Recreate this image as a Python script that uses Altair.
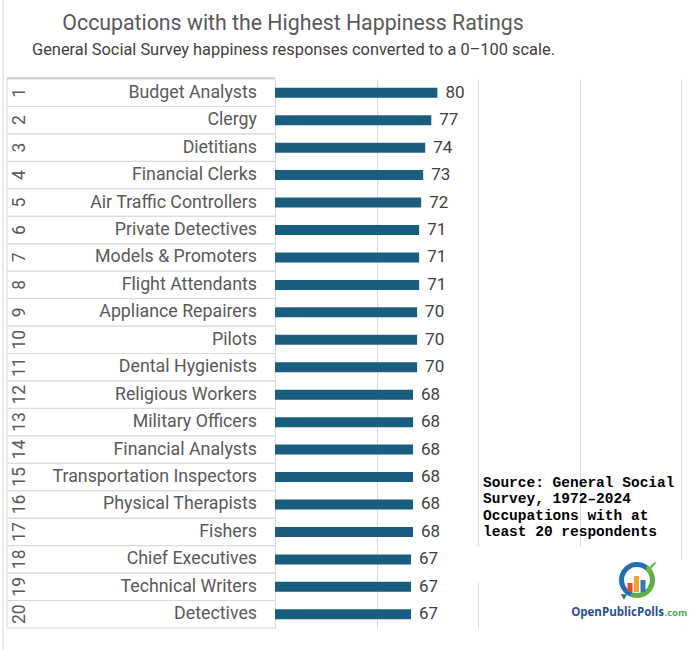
import altair as alt
import pandas as pd

# --- chart values -----------------------------------------------------------
ranks = list(range(1, 21))
occupations = [
    "Budget Analysts", "Clergy", "Dietitians", "Financial Clerks",
    "Air Traffic Controllers", "Private Detectives", "Models & Promoters",
    "Flight Attendants", "Appliance Repairers", "Pilots", "Dental Hygienists",
    "Religious Workers", "Military Officers", "Financial Analysts",
    "Transportation Inspectors", "Physical Therapists", "Fishers",
    "Chief Executives", "Technical Writers", "Detectives",
]
ratings = [80, 77, 74, 73, 72, 71, 71, 71, 70, 70, 70, 68, 68, 68, 68, 68, 68, 67, 67, 67]
grid_values = [0, 50, 100, 150, 200]

title_text = "Occupations with the Highest Happiness Ratings"
subtitle_text = "General Social Survey happiness responses converted to a 0\u2013100 scale."
source_lines = [
    "Source: General Social",
    "Survey, 1972\u20132024",
    "Occupations with at",
    "least 20 respondents",
]

# --- styling ----------------------------------------------------------------
BAR = "#1a5e7f"
GRID = "#d9d9d9"
LABEL = "#595959"
VALUE = "#404040"
SANS = "Roboto, Open Sans, sans-serif"

W, H = 406, 549

df = pd.DataFrame({"rank": ranks, "occupation": occupations, "rating": ratings})
one = pd.DataFrame({"k": [0]})

y_scale = alt.Scale(paddingInner=0, paddingOuter=0)
x_scale = alt.Scale(domain=[0, 200], nice=False, zero=True)


def y_enc(**kw):
    return alt.Y("rank:O", sort="ascending", scale=y_scale, axis=None, **kw)


base = alt.Chart(df)

bars = base.mark_bar(size=10, color=BAR).encode(
    x=alt.X(
        "rating:Q",
        scale=x_scale,
        axis=alt.Axis(values=grid_values, grid=True, gridColor=GRID,
                      labels=False, ticks=False, domain=False, title=None),
    ),
    y=y_enc(),
)

values = base.mark_text(align="left", baseline="middle", dx=8, font=SANS,
                        fontSize=17, color=VALUE).encode(
    x=alt.X("rating:Q", scale=x_scale),
    y=y_enc(),
    text=alt.Text("rating:Q"),
)

# table of rank / occupation on the left
row_top = base.mark_rule(color=GRID, strokeWidth=1).encode(
    y=y_enc(bandPosition=0), x=alt.value(-268), x2=alt.value(0)
)
row_bottom = base.mark_rule(color=GRID, strokeWidth=1).encode(
    y=y_enc(bandPosition=1), x=alt.value(-268), x2=alt.value(0)
)
table_left = alt.Chart(one).mark_rule(color=GRID, strokeWidth=1).encode(
    x=alt.value(-268), y=alt.value(0), y2=alt.value(H)
)
page_left = alt.Chart(one).mark_rule(color="#e4e4e4", strokeWidth=1.5).encode(
    x=alt.value(-272), y=alt.value(-79), y2=alt.value(571)
)
top_edge = alt.Chart(one).mark_rule(color="#cfcfcf", strokeWidth=2).encode(
    x=alt.value(-268), x2=alt.value(0), y=alt.value(-1)
)

names = base.mark_text(align="right", baseline="middle", font=SANS,
                       fontSize=17.8, color=LABEL).encode(
    y=y_enc(), x=alt.value(-18), text="occupation:N"
)
rank_labels = base.mark_text(angle=270, align="center", baseline="middle",
                             font=SANS, fontSize=17.5, color=LABEL).encode(
    y=y_enc(), x=alt.value(-255), text="rank:N"
)

# headings
title = alt.Chart(one).mark_text(align="center", baseline="alphabetic",
                                 font=SANS, fontSize=21.3, color=LABEL).encode(
    x=alt.value(18), y=alt.value(-49), text=alt.value(title_text)
)
subtitle = alt.Chart(one).mark_text(align="center", baseline="alphabetic",
                                    font=SANS, fontSize=16.4, color=VALUE).encode(
    x=alt.value(18.5), y=alt.value(-24.5), text=alt.value(subtitle_text)
)

# source note and logo panel
mask_a = alt.Chart(one).mark_rect(color="white").encode(
    x=alt.value(195), x2=alt.value(325), y=alt.value(468), y2=alt.value(504)
)
mask_b = alt.Chart(one).mark_rect(color="white").encode(
    x=alt.value(300), x2=alt.value(422), y=alt.value(481), y2=alt.value(549)
)
source = alt.Chart(one).mark_text(align="left", baseline="alphabetic",
                                  font="Liberation Mono, Courier New, monospace",
                                  fontWeight="bold", fontSize=14.5,
                                  lineHeight=16.3, color="black").encode(
    x=alt.value(208), y=alt.value(408), text=alt.value(source_lines)
)

ring_blue = alt.Chart(one).mark_arc(theta=3.5, theta2=7.07, radius=18, radius2=13,
                                    color="#1f6fb5").encode(
    x=alt.value(362), y=alt.value(501)
)
ring_green = alt.Chart(one).mark_arc(theta=0.785, theta2=3.5, radius=18, radius2=13,
                                     color="#5cb046").encode(
    x=alt.value(362), y=alt.value(501)
)
tail = alt.Chart(one).mark_point(shape="triangle-down", filled=True, size=40,
                                 color="#1f6fb5", opacity=1).encode(
    x=alt.value(349), y=alt.value(518)
)
logo_bar1 = alt.Chart(one).mark_rect(color="#e8452c").encode(
    x=alt.value(352.5), x2=alt.value(357.5), y=alt.value(504), y2=alt.value(513)
)
logo_bar2 = alt.Chart(one).mark_rect(color="#f5a01e").encode(
    x=alt.value(359), x2=alt.value(364), y=alt.value(497), y2=alt.value(513)
)
logo_bar3 = alt.Chart(one).mark_rect(color="#2a7cc0").encode(
    x=alt.value(365.5), x2=alt.value(370.5), y=alt.value(501), y2=alt.value(513)
)
check = alt.Chart(one).mark_text(align="center", baseline="middle",
                                 font="DejaVu Sans", fontSize=17, fontWeight="bold",
                                 color="#6cbf3b").encode(
    x=alt.value(376), y=alt.value(489), text=alt.value("\u2714")
)
logo_name = alt.Chart(one).mark_text(align="right", baseline="alphabetic",
                                     font="Open Sans, sans-serif", fontSize=11.5,
                                     fontWeight="bold", color="#1f4e9a").encode(
    x=alt.value(389), y=alt.value(537), text=alt.value("OpenPublicPolls")
)
logo_com = alt.Chart(one).mark_text(align="left", baseline="alphabetic",
                                    font="Open Sans, sans-serif", fontSize=9.5,
                                    fontWeight="bold", color="#4caf50").encode(
    x=alt.value(389.5), y=alt.value(537), text=alt.value(".com")
)

chart = alt.layer(
    bars, values, row_top, row_bottom, table_left, page_left, top_edge, names,
    rank_labels, title, subtitle, mask_a, mask_b, source,
    ring_blue, ring_green, tail, logo_bar1, logo_bar2, logo_bar3, check,
    logo_name, logo_com,
).properties(
    width=W, height=H,
    autosize=alt.AutoSizeParams(type="none"),
    padding={"left": 275, "top": 79, "right": 18, "bottom": 22},
    background="white",
).configure_view(stroke=None)

chart.save("out.html", embed_options={"renderer": "svg", "actions": False})
